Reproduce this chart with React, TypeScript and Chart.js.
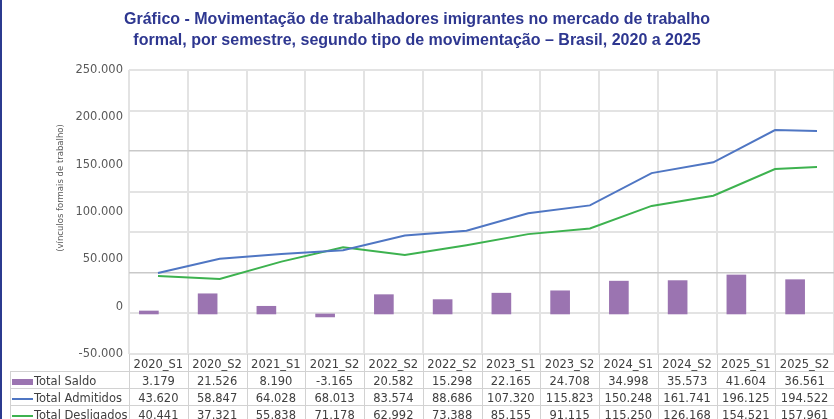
import React, { useEffect, useRef } from "react";
import { Chart, registerables } from "chart.js";

Chart.register(...registerables);

// ---- Data ----
const categories = [
  "2020_S1", "2020_S2", "2021_S1", "2021_S2", "2022_S2", "2022_S2",
  "2023_S1", "2023_S2", "2024_S1", "2024_S2", "2025_S1", "2025_S2",
];
const totalSaldo = [3179, 21526, 8190, -3165, 20582, 15298, 22165, 24708, 34998, 35573, 41604, 36561];
const totalAdmitidos = [43620, 58847, 64028, 68013, 83574, 88686, 107320, 115823, 150248, 161741, 196125, 194522];
const totalDesligados = [40441, 37321, 55838, 71178, 62992, 73388, 85155, 91115, 115250, 126168, 154521, 157961];
const seriesNames = ["Total Saldo", "Total Admitidos", "Total Desligados"];
const yTickMin = -50000;
const yTickMax = 250000;
const yTickStep = 50000;
const titleLines = [
  "Gráfico - Movimentação de trabalhadores imigrantes no mercado de trabalho",
  "formal, por semestre, segundo tipo de movimentação – Brasil, 2020 a 2025",
];
const yAxisTitle = "(vínculos formais de trabalho)";

// ---- Styles ----
const COLOR_SALDO = "#9b74b1";
const COLOR_ADM = "#4f76c3";
const COLOR_DESL = "#3db24f";
const TITLE_COLOR = "#2e3790";
const FONT = "'DejaVu Sans', Verdana, sans-serif";
const GRID_LIGHT = "#e3e3e3";
const GRID_DARK = "#c9c9c9";
const TABLE_LINE = "#d2d2d2";
const TEXT_COLOR = "#404040";

const fmt = (v: number) => {
  const s = Math.abs(Math.round(v)).toString().replace(/\B(?=(\d{3})+(?!\d))/g, ".");
  return v < 0 ? "-" + s : s;
};

const decorPlugin = {
  id: "decor",
  afterDraw(chart: any) {
    const { ctx, chartArea } = chart;
    const xs = chart.scales.x;
    const n = categories.length;
    const colW = (chartArea.right - chartArea.left) / n;
    const top = chartArea.bottom;
    const rowH = 17;
    const legendLeft = 10;
    const bottom = chart.height;
    const textDy = 2.5;

    ctx.save();
    // Title
    ctx.fillStyle = TITLE_COLOR;
    ctx.font = "bold 16px 'Liberation Sans', Arial, sans-serif";
    ctx.textAlign = "center";
    ctx.textBaseline = "middle";
    titleLines.forEach((t, i) => ctx.fillText(t, 417, 20 + i * 21));

    // Y axis title
    ctx.save();
    ctx.translate(61, 188);
    ctx.rotate(-Math.PI / 2);
    ctx.fillStyle = "#595959";
    ctx.font = `8.5px ${FONT}`;
    ctx.fillText(yAxisTitle, 0, 0);
    ctx.restore();

    // Table lines
    ctx.strokeStyle = TABLE_LINE;
    ctx.lineWidth = 1;
    ctx.beginPath();
    for (let r = 1; r <= 3; r++) {
      const y = Math.round(top + r * rowH) + 0.5;
      ctx.moveTo(legendLeft, y);
      ctx.lineTo(chartArea.right, y);
    }
    for (let i = 0; i <= n; i++) {
      const bx = Math.round(xs.getPixelForValue(0) - colW / 2 + i * colW) + 0.5;
      ctx.moveTo(bx, top);
      ctx.lineTo(bx, bottom);
    }
    ctx.moveTo(legendLeft + 0.5, top + rowH);
    ctx.lineTo(legendLeft + 0.5, bottom);
    ctx.stroke();

    // Table text
    ctx.font = `11.5px ${FONT}`;
    ctx.fillStyle = TEXT_COLOR;
    ctx.textAlign = "center";
    ctx.textBaseline = "middle";
    const rows = [totalSaldo, totalAdmitidos, totalDesligados];
    for (let i = 0; i < n; i++) {
      const cx = xs.getPixelForValue(i);
      ctx.fillText(categories[i], cx, top + rowH / 2 + textDy);
      rows.forEach((row, r) => {
        ctx.fillText(fmt(row[i]), cx, top + rowH * (r + 1) + rowH / 2 + textDy);
      });
    }
    // Legend cells
    const symColors = [COLOR_SALDO, COLOR_ADM, COLOR_DESL];
    ctx.textAlign = "left";
    seriesNames.forEach((name, r) => {
      const cy = top + rowH * (r + 1) + rowH / 2 + textDy;
      if (r === 0) {
        ctx.fillStyle = symColors[r];
        ctx.fillRect(12, cy - 3, 21, 6);
      } else {
        ctx.strokeStyle = symColors[r];
        ctx.lineWidth = 2;
        ctx.beginPath();
        ctx.moveTo(12, cy);
        ctx.lineTo(33, cy);
        ctx.stroke();
      }
      ctx.fillStyle = TEXT_COLOR;
      ctx.fillText(name, 34, cy);
    });
    ctx.restore();
  },
};

export default function App() {
  const canvasRef = useRef<HTMLCanvasElement | null>(null);

  useEffect(() => {
    if (!canvasRef.current) return;
    const lineClip = { left: 0, top: 0, right: -17, bottom: 0 };
    const chart = new Chart(canvasRef.current, {
      type: "bar",
      data: {
        labels: categories,
        datasets: [
          {
            type: "bar",
            label: seriesNames[0],
            data: totalSaldo,
            backgroundColor: COLOR_SALDO,
            barThickness: 19,
            xAxisID: "x",
            yAxisID: "y",
            order: 2,
          },
          {
            type: "line",
            label: seriesNames[1],
            data: totalAdmitidos.map((v, i) => ({ x: i, y: v })),
            borderColor: COLOR_ADM,
            backgroundColor: COLOR_ADM,
            borderWidth: 2,
            pointRadius: 0,
            tension: 0,
            xAxisID: "xl",
            yAxisID: "y",
            clip: lineClip,
            order: 1,
          } as any,
          {
            type: "line",
            label: seriesNames[2],
            data: totalDesligados.map((v, i) => ({ x: i, y: v })),
            borderColor: COLOR_DESL,
            backgroundColor: COLOR_DESL,
            borderWidth: 2,
            pointRadius: 0,
            tension: 0,
            xAxisID: "xl",
            yAxisID: "y",
            clip: lineClip,
            order: 1,
          } as any,
        ],
      },
      options: {
        animation: false,
        responsive: true,
        maintainAspectRatio: false,
        layout: { padding: { top: 70, bottom: 65, left: 0, right: 0 } },
        plugins: {
          legend: { display: false },
          tooltip: { enabled: false },
          title: { display: false },
        },
        scales: {
          x: {
            type: "category",
            offset: true,
            grid: { offset: true, color: GRID_LIGHT, lineWidth: 2, drawTicks: false },
            border: { display: false },
            ticks: { display: false },
            afterFit: (s: any) => { s.height = 0; },
          },
          xl: {
            type: "linear",
            display: false,
            offset: false,
            grid: { offset: false },
            min: -0.47,
            max: 10.956,
          },
          y: {
            type: "linear",
            position: "left",
            min: -42700,
            max: 260200,
            ticks: { display: false, count: 8 },
            grid: {
              drawTicks: false,
              color: (c: any) => (c.index === 2 || c.index === 5 ? GRID_DARK : GRID_LIGHT),
              lineWidth: (c: any) => (c.index === 2 || c.index === 5 ? 1.5 : 2),
            },
            border: { display: false },
            afterFit: (s: any) => { s.width = 0; },
          },
          yL: {
            type: "linear",
            position: "left",
            min: yTickMin,
            max: yTickMax,
            ticks: {
              stepSize: yTickStep,
              padding: 6,
              color: "#595959",
              font: { family: FONT, size: 11.5 },
              callback: (v: any) => fmt(Number(v)),
            },
            grid: { display: false, drawTicks: false },
            border: { display: false },
            afterFit: (s: any) => { s.width = 129; },
          },
        } as any,
      },
      plugins: [decorPlugin],
    });
    return () => chart.destroy();
  }, []);

  return (
    <div style={{ position: "absolute", left: 0, top: 0, width: 834, height: 419, background: "#ffffff" }}>
      <canvas ref={canvasRef} />
      <div style={{ position: "absolute", left: 0, top: 0, width: 2, height: 419, background: "#2b3a8f" }} />
    </div>
  );
}
